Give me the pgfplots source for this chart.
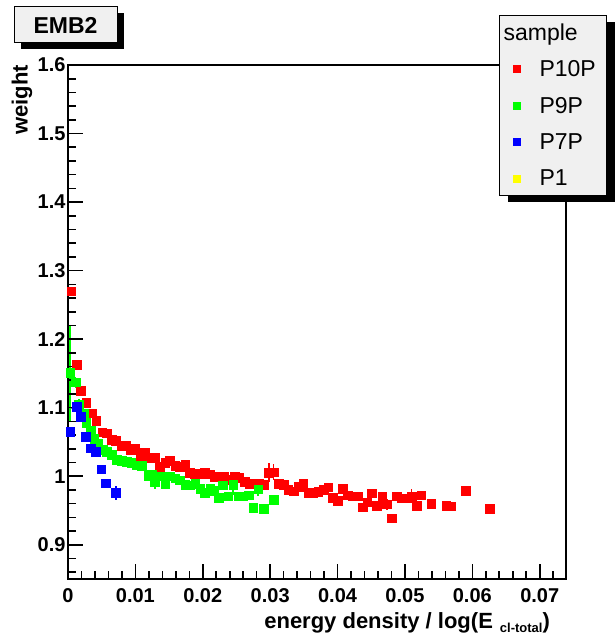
\documentclass[border=0pt]{standalone}
\usepackage{pgfplots}
\usepackage{pgfplotstable}
\pgfplotsset{compat=1.18}
\usepackage{fontspec}
\setmainfont{Liberation Sans}
\usetikzlibrary{shadows}
\definecolor{rootgray}{RGB}{240,240,240}
\definecolor{rred}{RGB}{255,0,0}
\definecolor{rgreen}{RGB}{0,255,0}
\definecolor{rblue}{RGB}{0,0,255}
\definecolor{ryellow}{RGB}{255,255,0}

\pgfplotstableread{
x y e
0.00045 1.270 0.006
0.0013 1.163 0.005
0.0019 1.125 0.004
0.0027 1.107 0.004
0.0035 1.092 0.004
0.0042 1.081 0.004
0.0051 1.064 0.003
0.0057 1.063 0.003
0.0065 1.053 0.003
0.0071 1.052 0.003
0.0079 1.044 0.003
0.0086 1.045 0.003
0.0093 1.039 0.003
0.0100 1.041 0.003
0.0107 1.028 0.003
0.0114 1.034 0.003
0.0121 1.027 0.003
0.0129 1.028 0.003
0.0136 1.014 0.003
0.0144 1.020 0.003
0.0151 1.023 0.003
0.0159 1.015 0.003
0.0166 1.014 0.003
0.0174 1.017 0.003
0.0181 1.005 0.003
0.0188 1.004 0.003
0.0196 1.004 0.003
0.0203 1.006 0.003
0.0210 1.003 0.003
0.0218 0.999 0.003
0.0225 1.000 0.003
0.0232 0.999 0.003
0.0240 0.995 0.003
0.0247 0.999 0.003
0.0254 0.998 0.003
0.0262 0.992 0.003
0.0269 0.989 0.003
0.0276 0.989 0.003
0.0284 0.989 0.003
0.0291 0.988 0.003
0.0298 1.005 0.014
0.0305 1.006 0.012
0.0313 0.989 0.004
0.0320 0.988 0.004
0.0327 0.980 0.004
0.0335 0.978 0.004
0.0342 0.985 0.004
0.0349 0.989 0.004
0.0357 0.976 0.004
0.0364 0.975 0.004
0.0371 0.977 0.004
0.0379 0.980 0.004
0.0386 0.984 0.004
0.0393 0.969 0.005
0.0400 0.964 0.005
0.0408 0.982 0.005
0.0415 0.972 0.005
0.0422 0.971 0.005
0.0430 0.971 0.005
0.0437 0.955 0.005
0.0444 0.962 0.005
0.0451 0.975 0.005
0.0458 0.957 0.005
0.0466 0.971 0.005
0.0473 0.959 0.008
0.0480 0.939 0.005
0.0488 0.971 0.005
0.0495 0.968 0.005
0.0502 0.968 0.005
0.0510 0.971 0.010
0.0517 0.957 0.005
0.0524 0.972 0.005
0.0539 0.960 0.005
0.0561 0.957 0.005
0.0568 0.956 0.005
0.0590 0.979 0.005
0.0626 0.953 0.005
}\redtab

\pgfplotstableread{
x y e
0.0003 1.151 0.070
0.0011 1.137 0.008
0.0016 1.105 0.008
0.0023 1.092 0.006
0.0027 1.078 0.005
0.0034 1.067 0.005
0.0039 1.055 0.004
0.0044 1.048 0.004
0.0052 1.039 0.004
0.0057 1.036 0.004
0.0065 1.031 0.004
0.0072 1.024 0.004
0.0080 1.023 0.004
0.0087 1.021 0.004
0.0094 1.020 0.004
0.0102 1.016 0.004
0.0109 1.015 0.004
0.0119 1.001 0.005
0.0124 1.003 0.005
0.0129 0.992 0.010
0.0136 1.000 0.005
0.0144 0.989 0.008
0.0151 1.000 0.005
0.0159 0.997 0.005
0.0166 0.994 0.005
0.0174 0.988 0.005
0.0181 0.987 0.005
0.0189 0.989 0.005
0.0196 0.982 0.005
0.0203 0.976 0.006
0.0211 0.982 0.005
0.0217 0.979 0.005
0.0224 0.969 0.006
0.0230 0.987 0.006
0.0238 0.971 0.006
0.0245 0.988 0.016
0.0253 0.971 0.006
0.0260 0.971 0.006
0.0268 0.972 0.006
0.0275 0.954 0.006
0.0282 0.981 0.010
0.0290 0.953 0.006
0.0305 0.966 0.006
}\greentab

\pgfplotstableread{
x y e
0.0003 1.065 0.004
0.0013 1.101 0.005
0.0019 1.087 0.005
0.0026 1.058 0.004
0.0034 1.041 0.006
0.0041 1.036 0.005
0.0049 1.010 0.005
0.0056 0.990 0.005
0.0071 0.976 0.010
}\bluetab

\begin{document}
\begin{tikzpicture}
\path (0pt,0pt) rectangle (616pt,635pt);
\node[draw=black, line width=1pt, fill=rootgray, minimum width=103pt, minimum height=36pt, inner sep=0pt,
  drop shadow={shadow xshift=7pt, shadow yshift=-6pt, fill=black, opacity=1},
  font=\bfseries\fontsize{23}{23}\selectfont] at (65.5pt,610pt) {EMB2};
\begin{axis}[
  at={(68pt,56pt)}, anchor=south west, scale only axis,
  width=498pt, height=514pt,
  xmin=0, xmax=0.0739, ymin=0.85, ymax=1.6,
  scaled x ticks=false, scaled y ticks=false,
  axis line style={line width=1.8pt},
  tick pos=left, tick align=inside,
  major tick length=15pt, minor tick length=8pt,
  xtick={0,0.01,0.02,0.03,0.04,0.05,0.06,0.07},
  xticklabels={0,0.01,0.02,0.03,0.04,0.05,0.06,0.07},
  ytick={0.9,1.0,1.1,1.2,1.3,1.4,1.5,1.6},
  yticklabels={0.9,1,1.1,1.2,1.3,1.4,1.5,1.6},
  ticklabel style={font=\bfseries\fontsize{20}{20}\selectfont},
  xticklabel style={yshift=-6pt},
  yticklabel style={xshift=1pt},
  xlabel={energy density / log(E\hspace{7pt}\raisebox{-4pt}{\fontsize{13}{13}\selectfont cl-total})},
  xlabel style={at={(rel axis cs:0.968,0)}, anchor=north east, yshift=-33pt,
    font=\bfseries\fontsize{22}{22}\selectfont, inner sep=0pt},
  ylabel={weight},
  ylabel style={at={(rel axis cs:0,1)}, anchor=east, yshift=46pt,
    font=\bfseries\fontsize{22}{22}\selectfont, inner sep=0pt},
  legend style={at={(0.8655,1.0973)}, anchor=north west, fill=rootgray, draw=black, line width=1pt,
    font=\fontsize{23}{23}\selectfont, row sep=15pt, column sep=17pt, inner xsep=9pt, inner ysep=6pt,
    drop shadow={shadow xshift=8pt, shadow yshift=-7pt, fill=black, opacity=1}},
  legend cell align=left,
  legend image post style={mark size=3.5pt},
]
\addlegendimage{empty legend}
\addlegendentry{\hspace*{-36pt}sample}
\addplot[only marks, mark=square*, mark size=4.3pt, color=rred, mark options={draw=none, fill=rred},
  error bars/.cd, y dir=both, y explicit, error mark=none, error bar style={line width=1.5pt, rred}]
  table[x=x, y=y, y error=e] {\redtab};
\addlegendentry{P10P}
\addplot[only marks, mark=square*, mark size=4.3pt, color=rgreen, mark options={draw=none, fill=rgreen},
  error bars/.cd, y dir=both, y explicit, error mark=none, error bar style={line width=1.5pt, rgreen}]
  table[x=x, y=y, y error=e] {\greentab};
\addlegendentry{P9P}
\addplot[only marks, mark=square*, mark size=4.3pt, color=rblue, mark options={draw=none, fill=rblue},
  error bars/.cd, y dir=both, y explicit, error mark=none, error bar style={line width=1.5pt, rblue}]
  table[x=x, y=y, y error=e] {\bluetab};
\addlegendentry{P7P}
\addlegendimage{only marks, mark=square*, color=ryellow, mark options={draw=none, fill=ryellow}}
\addlegendentry{P1}
% axis tick marks (inward, left and bottom)
\pgfplotsinvokeforeach{0.01,0.02,0.03,0.04,0.05,0.06,0.07}{
  \draw[black, line width=1.6pt] (axis cs:#1,0.85) -- ([yshift=15pt]axis cs:#1,0.85);}
\pgfplotsinvokeforeach{0.002,0.004,0.006,0.008,0.012,0.014,0.016,0.018,0.022,0.024,0.026,0.028,0.032,0.034,0.036,0.038,0.042,0.044,0.046,0.048,0.052,0.054,0.056,0.058,0.062,0.064,0.066,0.068,0.072}{
  \draw[black, line width=1.6pt] (axis cs:#1,0.85) -- ([yshift=8pt]axis cs:#1,0.85);}
\pgfplotsinvokeforeach{0.9,1.0,1.1,1.2,1.3,1.4,1.5,1.6}{
  \draw[black, line width=1.6pt] (axis cs:0,#1) -- ([xshift=15pt]axis cs:0,#1);}
\pgfplotsinvokeforeach{0.86,0.88,0.92,0.94,0.96,0.98,1.02,1.04,1.06,1.08,1.12,1.14,1.16,1.18,1.22,1.24,1.26,1.28,1.32,1.34,1.36,1.38,1.42,1.44,1.46,1.48,1.52,1.54,1.56,1.58}{
  \draw[black, line width=1.6pt] (axis cs:0,#1) -- ([xshift=8pt]axis cs:0,#1);}
\end{axis}
\end{tikzpicture}
\end{document}
